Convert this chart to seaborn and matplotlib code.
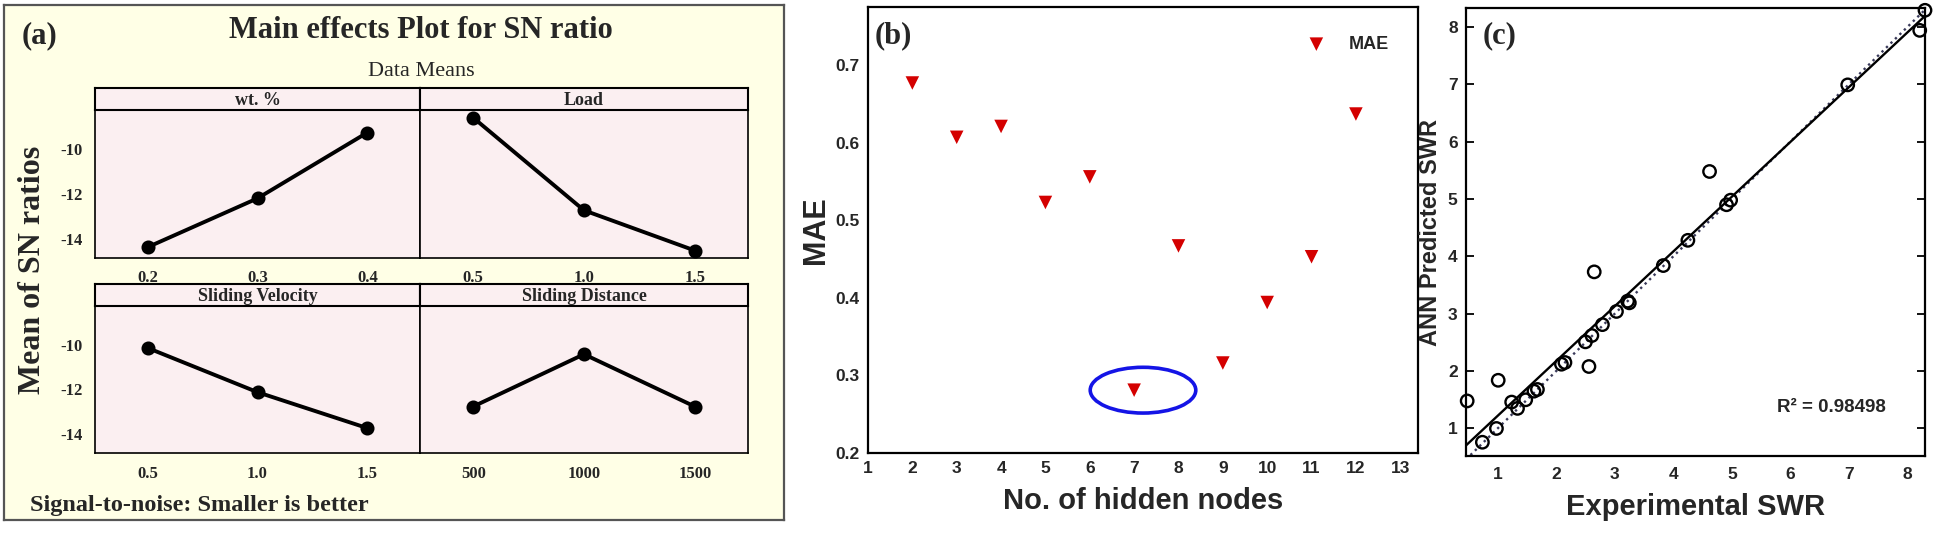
import numpy as np
import matplotlib
matplotlib.use('Agg')
import matplotlib.pyplot as plt
import seaborn as sns
from matplotlib.patches import Ellipse

# (a) main effects plot: mean of SN ratios for each factor level
wt_levels = ['0.2', '0.3', '0.4']
wt_sn = [-14.35, -12.19, -9.28]
load_levels = ['0.5', '1.0', '1.5']
load_sn = [-8.62, -12.72, -14.50]
velocity_levels = ['0.5', '1.0', '1.5']
velocity_sn = [-10.15, -12.12, -13.72]
distance_levels = ['500', '1000', '1500']
distance_sn = [-12.76, -10.43, -12.76]
sn_ticks = [-10, -12, -14]

# (b) MAE against number of hidden nodes
hidden_nodes = [2, 3, 4, 5, 6, 7, 8, 9, 10, 11, 12]
mae = [0.677, 0.607, 0.621, 0.523, 0.556, 0.281, 0.467, 0.316, 0.394, 0.453, 0.637]

# (c) experimental vs ANN predicted SWR
exp_swr = [0.48, 0.74, 0.98, 1.01, 1.24, 1.34, 1.48, 1.62, 1.68, 2.09, 2.15, 2.56, 2.50,
           2.61, 2.65, 2.79, 3.03, 3.22, 3.25, 3.83, 4.25, 4.62, 4.91, 4.98, 6.98, 8.21, 8.30]
pred_swr = [1.48, 0.76, 1.00, 1.84, 1.46, 1.35, 1.50, 1.65, 1.68, 2.12, 2.15, 2.08, 2.51,
            2.62, 3.73, 2.81, 3.04, 3.22, 3.19, 3.84, 4.28, 5.48, 4.90, 4.98, 6.99, 7.94, 8.29]

sns.set_theme(style='white')
plt.rcParams['font.family'] = ['Liberation Sans', 'DejaVu Sans']
plt.rcParams['font.weight'] = 'bold'
plt.rcParams['axes.labelweight'] = 'bold'
plt.rcParams['axes.unicode_minus'] = False

W, H = 1935, 536
fig = plt.figure(figsize=(W / 100, H / 100), dpi=100)
fig.patch.set_facecolor('white')


def px_box(x0, y0, x1, y1):
    # pixel box (top-left origin) -> figure fraction rect
    return [x0 / W, 1 - y1 / H, (x1 - x0) / W, (y1 - y0) / H]


def fig_text(x, y, s, **kw):
    fig.text(x / W, 1 - y / H, s, **kw)


serif = 'Liberation Serif'

# ---------------- (a) ----------------
bg = fig.add_axes(px_box(4, 5, 784, 520))
bg.set_facecolor('#FFFFE6')
bg.set_xticks([])
bg.set_yticks([])
for s in bg.spines.values():
    s.set_color('#555555')
    s.set_linewidth(1.6)

fig_text(22, 36, '(a)', family=serif, fontsize=22, fontweight='bold', va='center')
fig_text(421, 30, 'Main effects Plot for SN ratio', family=serif, fontsize=22,
         fontweight='bold', ha='center', va='center')
fig_text(421, 72, 'Data Means', family=serif, fontsize=16, fontweight='normal',
         ha='center', va='center')
fig_text(33, 270, 'Mean of SN ratios', family=serif, fontsize=23, fontweight='bold',
         rotation=90, ha='center', va='center')
fig_text(30, 505, 'Signal-to-noise: Smaller is better', family=serif, fontsize=17.5,
         fontweight='bold', ha='left', va='center')

panels = [
    ('wt. %', wt_levels, wt_sn, (95, 110, 420, 258), True),
    ('Load', load_levels, load_sn, (420, 110, 748, 258), False),
    ('Sliding Velocity', velocity_levels, velocity_sn, (95, 306, 420, 453), True),
    ('Sliding Distance', distance_levels, distance_sn, (420, 306, 748, 453), False),
]
for name, levels, vals, (x0, y0, x1, y1), first_col in panels:
    ax = fig.add_axes(px_box(x0, y0, x1, y1))
    ax.set_facecolor('#FBEFF1')
    sns.pointplot(x=levels, y=vals, color='black', markers='o', markersize=8,
                  linewidth=2.8, errorbar=None, ax=ax)
    ax.set_xlim(-0.48, 2.48)
    ax.set_ylim(-14.83, -8.28)
    ax.set_yticks(sn_ticks)
    ax.set_xlabel('')
    ax.set_ylabel('')
    ax.tick_params(direction='out', length=5, width=1.2, color='black',
                   labelsize=12, labelfontfamily=serif, pad=4)
    if not first_col:
        ax.tick_params(axis='y', left=False, labelleft=False)
    for s in ax.spines.values():
        s.set_color('black')
        s.set_linewidth(1.2)

    hd = fig.add_axes(px_box(x0, y0 - 22, x1, y0))
    hd.set_facecolor('#FBEFF1')
    hd.set_xticks([])
    hd.set_yticks([])
    for s in hd.spines.values():
        s.set_color('black')
        s.set_linewidth(1.5)
    hd.text(0.5, 0.42, name, transform=hd.transAxes, ha='center', va='center',
            family=serif, fontsize=13, fontweight='bold')

# ---------------- (b) ----------------
axb = fig.add_axes(px_box(868, 7, 1418, 453))
sns.scatterplot(x=hidden_nodes, y=mae, marker='v', color='#D40000', s=95,
                edgecolor='none', label='MAE', ax=axb)
axb.set_xlim(1, 13.4)
axb.set_ylim(0.2, 0.775)
axb.set_xticks(range(1, 14))
axb.set_yticks([0.2, 0.3, 0.4, 0.5, 0.6, 0.7])
axb.tick_params(direction='in', length=8, width=1.5, color='black', labelsize=12.5, pad=6)
for tick, val in zip(axb.xaxis.get_major_ticks(), range(1, 14)):
    if val in (7, 8, 9):
        tick.tick1line.set_color('#2828C8')
for s in axb.spines.values():
    s.set_color('black')
    s.set_linewidth(1.6)
axb.set_xlabel('No. of hidden nodes', fontsize=21, labelpad=8)
axb.set_ylabel('MAE', fontsize=22, labelpad=3)

i_min = int(np.argmin(mae))
axb.add_patch(Ellipse((hidden_nodes[i_min] + 0.2, mae[i_min]), 2.38, 0.059,
                      fill=False, edgecolor='#1414E6', linewidth=2.6))
axb.legend(loc='upper right', frameon=False, prop={'weight': 'bold', 'size': 13},
           handletextpad=0.8, borderaxespad=1.2)
fig_text(875, 36, '(b)', family=serif, fontsize=22, fontweight='bold', va='center')

# ---------------- (c) ----------------
axc = fig.add_axes(px_box(1466, 8, 1925, 456))
axc.set_xlim(0.46, 8.3)
axc.set_ylim(0.52, 8.33)
diag = np.array(axc.get_xlim())
axc.plot(diag, diag, linestyle=':', color='#3A3A5A', linewidth=1.7)
sns.regplot(x=exp_swr, y=pred_swr, scatter=False, ci=None, truncate=False,
            color='black', line_kws={'linewidth': 1.7}, ax=axc)
sns.scatterplot(x=exp_swr, y=pred_swr, marker='o', s=80, facecolors='none',
                edgecolor='black', linewidth=1.7, ax=axc, clip_on=False, zorder=5)
axc.set_xlim(0.46, 8.3)
axc.set_ylim(0.52, 8.33)
axc.set_xticks(range(1, 9))
axc.set_yticks(range(1, 9))
axc.tick_params(axis='y', direction='in', left=True, right=True, length=6, width=1.3,
                color='black', labelsize=12.5, pad=6)
axc.tick_params(axis='x', length=0, labelsize=12.5, pad=8)
for s in axc.spines.values():
    s.set_color('black')
    s.set_linewidth(1.6)
axc.set_xlabel('Experimental SWR', fontsize=21, labelpad=8)
axc.set_ylabel('ANN Predicted SWR', fontsize=17, labelpad=4)
fig_text(1777, 407, 'R² = 0.98498', fontsize=13.5, fontweight='bold', va='center')
fig_text(1483, 36, '(c)', family=serif, fontsize=22, fontweight='bold', va='center')

fig.savefig('out.png', dpi=100, facecolor='white')
